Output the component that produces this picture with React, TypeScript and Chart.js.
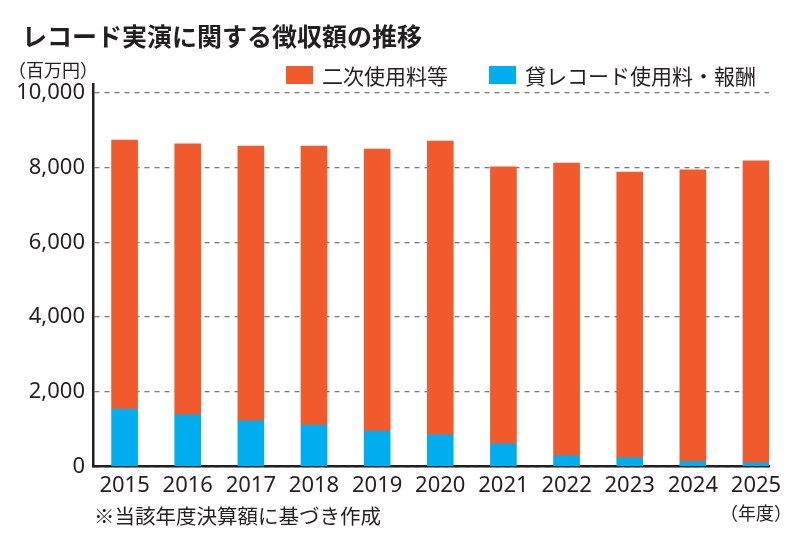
import React, { useEffect, useRef } from "react";
import { Chart, registerables } from "chart.js";

Chart.register(...registerables);

const years = ["2015", "2016", "2017", "2018", "2019", "2020", "2021", "2022", "2023", "2024", "2025"];
// 貸レコード使用料・報酬 (百万円)
const rentalFees = [1540, 1380, 1220, 1110, 950, 845, 610, 290, 235, 130, 95];
// 二次使用料等 (百万円)
const secondaryFees = [7200, 7255, 7360, 7470, 7550, 7870, 7410, 7835, 7650, 7810, 8085];
const yTicks = [0, 2000, 4000, 6000, 8000, 10000];

const ORANGE = "#f05a2c";
const BLUE = "#00aeef";
const INK = "#231f20";
const JP = '"Noto Sans CJK JP"';
const NUM = '"Noto Sans"';

const textPlugin = {
    id: "texts",
    beforeDraw(chart: any) {
        const ctx = chart.ctx;
        ctx.save();
        ctx.fillStyle = "#ffffff";
        ctx.fillRect(0, 0, chart.width, chart.height);
        ctx.restore();
    },
    afterDraw(chart: any) {
        const ctx = chart.ctx;
        ctx.save();
        ctx.fillStyle = INK;
        ctx.textBaseline = "middle";
        ctx.textAlign = "left";

        ctx.font = `bold 25px ${JP}`;
        ctx.fillText("レコード実演に関する徴収額の推移", 22, 36);

        ctx.font = `18px ${JP}`;
        ctx.fillText("（百万円）", 8, 70);

        // legend
        const items = [
            { label: chart.data.datasets[1].label, color: ORANGE, x: 286 },
            { label: chart.data.datasets[0].label, color: BLUE, x: 489 },
        ];
        ctx.font = `21px ${JP}`;
        items.forEach((it) => {
            ctx.fillStyle = it.color;
            ctx.fillRect(it.x, 66, 27, 18);
            ctx.fillStyle = INK;
            ctx.fillText(it.label, it.x + 36, 76);
        });

        ctx.font = `20.5px ${JP}`;
        ctx.fillText("※当該年度決算額に基づき作成", 94, 516);

        ctx.font = `18px ${JP}`;
        ctx.textAlign = "right";
        ctx.fillText("（年度）", 792, 513);
        ctx.restore();
    },
};

const App = () => {
    const canvasRef = useRef<HTMLCanvasElement | null>(null);

    useEffect(() => {
        document.body.style.margin = "0";
        const ctx = canvasRef.current?.getContext("2d");
        if (!ctx) return;

        const chart = new Chart(ctx, {
            type: "bar",
            data: {
                datasets: [
                    {
                        label: "貸レコード使用料・報酬",
                        data: rentalFees.map((v, i) => ({ x: i, y: v })),
                        backgroundColor: BLUE,
                        borderWidth: 0,
                        barThickness: 26,
                    },
                    {
                        label: "二次使用料等",
                        data: secondaryFees.map((v, i) => ({ x: i, y: v })),
                        backgroundColor: ORANGE,
                        borderWidth: 0,
                        barThickness: 26,
                    },
                ],
            },
            options: {
                responsive: false,
                animation: false,
                devicePixelRatio: 1,
                layout: { padding: { top: 84, right: 41, bottom: 0, left: 0 } },
                plugins: {
                    legend: { display: false },
                    title: { display: false },
                    tooltip: { enabled: false },
                },
                scales: {
                    x: {
                        type: "linear",
                        stacked: true,
                        offset: false,
                        min: -0.5,
                        max: 10.206,
                        afterBuildTicks: (s: any) => {
                            s.ticks = years.map((_, i) => ({ value: i }));
                        },
                        afterFit: (s: any) => {
                            s.height = 75.5;
                        },
                        ticks: {
                            callback: (v: any) => years[v],
                            autoSkip: false,
                            maxRotation: 0,
                            padding: 6,
                            color: INK,
                            font: { family: NUM, size: 22 },
                        },
                        grid: { display: false, drawTicks: false, offset: false },
                        border: { display: true, color: INK, width: 2.5 },
                    },
                    y: {
                        stacked: true,
                        min: 0,
                        max: 10240,
                        afterBuildTicks: (s: any) => {
                            s.ticks = yTicks.map((v) => ({ value: v }));
                        },
                        afterFit: (s: any) => {
                            s.width = 93;
                        },
                        ticks: {
                            callback: (v: any) => Number(v).toLocaleString("en-US"),
                            padding: 8,
                            color: INK,
                            font: { family: NUM, size: 22 },
                        },
                        grid: { color: "#7a7a7a", lineWidth: 1.3, drawTicks: false },
                        border: { display: true, color: INK, width: 2.5, dash: [5, 5] },
                    },
                },
            },
            plugins: [textPlugin],
        });

        return () => {
            chart.destroy();
        };
    }, []);

    return (
        <div style={{ position: "absolute", left: 0, top: 0, width: 810, height: 542 }}>
            <canvas ref={canvasRef} width={810} height={542} />
        </div>
    );
};

export default App;
